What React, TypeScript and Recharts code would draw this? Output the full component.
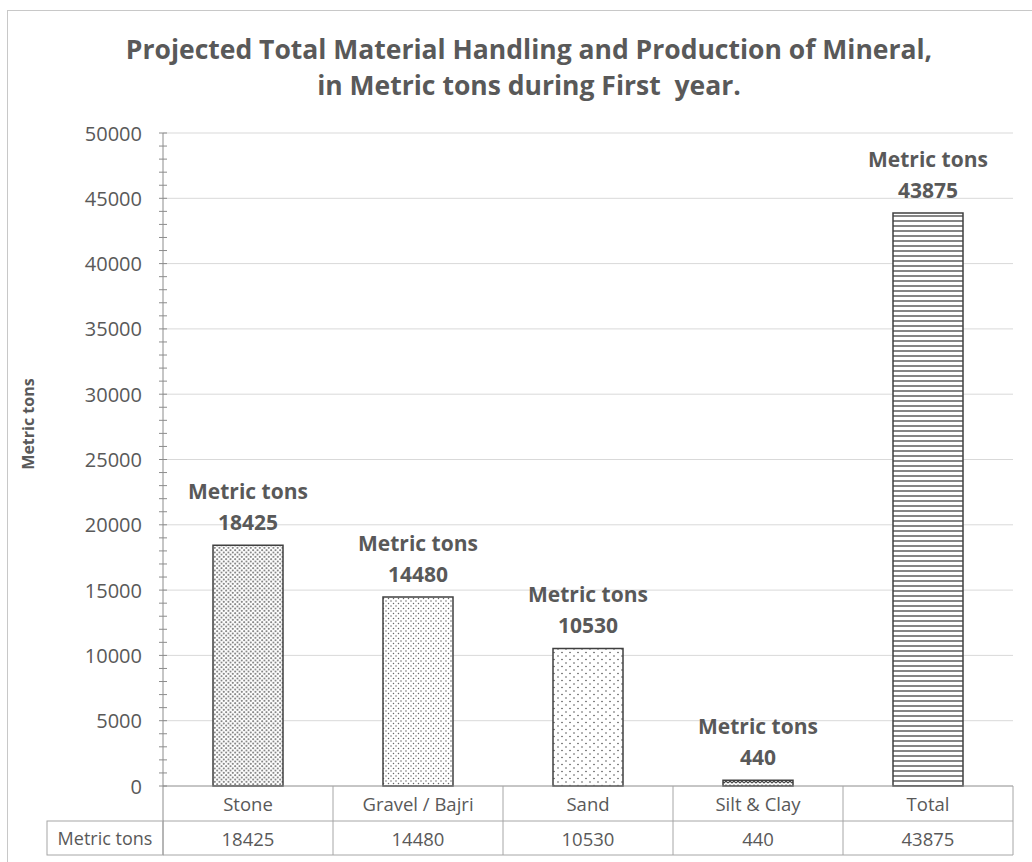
import React from 'react';
import { BarChart, Bar, XAxis, YAxis, CartesianGrid, Cell, LabelList } from 'recharts';

const categories = ['Stone', 'Gravel / Bajri', 'Sand', 'Silt & Clay', 'Total'];
const values = [18425, 14480, 10530, 440, 43875];
const seriesName = 'Metric tons';
const yTicks = [0, 1000, 2000, 3000, 4000, 5000, 6000, 7000, 8000, 9000, 10000, 11000, 12000, 13000, 14000, 15000, 16000, 17000, 18000, 19000, 20000, 21000, 22000, 23000, 24000, 25000, 26000, 27000, 28000, 29000, 30000, 31000, 32000, 33000, 34000, 35000, 36000, 37000, 38000, 39000, 40000, 41000, 42000, 43000, 44000, 45000, 46000, 47000, 48000, 49000, 50000];
const gridValues = [5000, 10000, 15000, 20000, 25000, 30000, 35000, 40000, 45000, 50000];
const patternIds = ['patStone', 'patGravel', 'patSand', 'patSilt', 'patTotal'];

const data = categories.map((c, i) => ({ name: c, value: values[i] }));

const W = 1032;
const H = 862;
const PLOT_LEFT = 163;
const PLOT_RIGHT = 1013;
const PLOT_TOP = 133;
const PLOT_BOTTOM = 786;
const BAND = (PLOT_RIGHT - PLOT_LEFT) / categories.length;
const ROW1 = 35;
const ROW2 = 34;
const FONT = '"Open Sans", "Noto Sans", sans-serif';
const TEXT = '#595959';
const LINE = '#a6a6a6';

const YTick = (props: any) => {
  const { x, y, payload } = props;
  const major = payload.value % 5000 === 0;
  return (
    <g>
      <line x1={x - 4} x2={x + 4} y1={y} y2={y} stroke="#8c8c8c" strokeWidth={1} />
      {major && (
        <text x={x - 21} y={y} textAnchor="end" dominantBaseline="central" fontFamily={FONT} fontSize={20} fill={TEXT}>
          {payload.value}
        </text>
      )}
    </g>
  );
};

const TableTick = (props: any) => {
  const { x, y, payload, index } = props;
  const left = x - BAND / 2;
  const right = x + BAND / 2;
  return (
    <g>
      <line x1={right} x2={right} y1={y} y2={y + ROW1 + ROW2} stroke={LINE} strokeWidth={1} />
      <line x1={left} x2={right} y1={y + ROW1} y2={y + ROW1} stroke={LINE} strokeWidth={1} />
      <line x1={left} x2={right} y1={y + ROW1 + ROW2} y2={y + ROW1 + ROW2} stroke={LINE} strokeWidth={1} />
      {index === 0 && (
        <g>
          <line x1={left} x2={left} y1={y} y2={y + ROW1 + ROW2} stroke="#8c8c8c" strokeWidth={1} />
          <rect x={47} y={y + ROW1} width={left - 47} height={ROW2} fill="none" stroke={LINE} strokeWidth={1} />
          <text x={(47 + left) / 2} y={y + ROW1 + ROW2 / 2} textAnchor="middle" dominantBaseline="central" fontFamily={FONT} fontSize={18} fill={TEXT}>
            {seriesName}
          </text>
        </g>
      )}
      <text x={x} y={y + ROW1 / 2} textAnchor="middle" dominantBaseline="central" fontFamily={FONT} fontSize={18.5} fill={TEXT}>
        {payload.value}
      </text>
      <text x={x} y={y + ROW1 + ROW2 / 2} textAnchor="middle" dominantBaseline="central" fontFamily={FONT} fontSize={18.5} fill={TEXT}>
        {values[index]}
      </text>
    </g>
  );
};

const DataLabel = (props: any) => {
  const { x, y, width, value } = props;
  const cx = x + width / 2;
  return (
    <g>
      <text x={cx} y={y - 54} textAnchor="middle" dominantBaseline="central" fontFamily={FONT} fontWeight={700} fontSize={21} fill={TEXT}>
        {seriesName}
      </text>
      <text x={cx} y={y - 23} textAnchor="middle" dominantBaseline="central" fontFamily={FONT} fontWeight={700} fontSize={21} fill={TEXT}>
        {value}
      </text>
    </g>
  );
};

export default function App() {
  return (
    <div style={{ position: 'absolute', left: 0, top: 0, width: W, height: H, background: '#fff', overflow: 'hidden' }}>
      <div style={{ position: 'absolute', left: 7, top: 10, width: 1040, height: 900, border: '1.5px solid #c8c8c8', boxSizing: 'border-box' }} />
      <div style={{ position: 'absolute', left: 0, top: 31, width: 1058, textAlign: 'center', fontFamily: FONT, fontWeight: 700, fontSize: 26.5, color: TEXT, lineHeight: '36px' }}>
        <div>Projected Total Material Handling and Production of Mineral,</div>
        <div>in Metric tons during First&nbsp; year.</div>
      </div>
      <div style={{ position: 'absolute', left: 28, top: 424, transform: 'translate(-50%, -50%) rotate(-90deg)', fontFamily: FONT, fontWeight: 700, fontSize: 16, color: TEXT, whiteSpace: 'nowrap' }}>
        {seriesName}
      </div>
      <div style={{ position: 'absolute', left: 0, top: 0 }}>
        <BarChart width={W} height={H} data={data} margin={{ top: PLOT_TOP, right: W - PLOT_RIGHT, left: 0, bottom: 0 }} barCategoryGap={0}>
          <defs>
            <pattern id="patStone" patternUnits="userSpaceOnUse" width={4.5} height={4.5}>
              <rect width={4.5} height={4.5} fill="#ffffff" />
              <circle cx={1.1} cy={1.1} r={0.95} fill="#606060" />
              <circle cx={3.35} cy={3.35} r={0.95} fill="#606060" />
            </pattern>
            <pattern id="patGravel" patternUnits="userSpaceOnUse" width={5} height={5}>
              <rect width={5} height={5} fill="#ffffff" />
              <circle cx={1} cy={1} r={0.75} fill="#666" />
              <circle cx={3.5} cy={3.5} r={0.75} fill="#666" />
            </pattern>
            <pattern id="patSand" patternUnits="userSpaceOnUse" width={8} height={7}>
              <rect width={8} height={7} fill="#ffffff" />
              <circle cx={2} cy={1.5} r={0.8} fill="#555" />
              <circle cx={6} cy={5} r={0.8} fill="#555" />
            </pattern>
            <pattern id="patSilt" patternUnits="userSpaceOnUse" width={8} height={4}>
              <rect width={8} height={4} fill="#ffffff" />
              <path d="M0 3 L2 1 L4 3 L6 1 L8 3" stroke="#444" strokeWidth={1.2} fill="none" />
            </pattern>
            <pattern id="patTotal" patternUnits="userSpaceOnUse" width={6} height={5}>
              <rect width={6} height={5} fill="#ffffff" />
              <line x1={0} x2={6} y1={1} y2={1} stroke="#333" strokeWidth={1.2} />
            </pattern>
          </defs>
          <CartesianGrid horizontal vertical={false} stroke="#d9d9d9" horizontalValues={gridValues} />
          <XAxis
            dataKey="name"
            height={H - PLOT_BOTTOM}
            tickSize={0}
            tickMargin={0}
            axisLine={{ stroke: '#8c8c8c' }}
            tickLine={false}
            interval={0}
            tick={<TableTick />}
          />
          <YAxis
            width={PLOT_LEFT}
            domain={[0, 50000]}
            ticks={yTicks}
            interval={0}
            tickSize={0}
            tickMargin={0}
            tickLine={false}
            axisLine={{ stroke: '#8c8c8c' }}
            tick={<YTick />}
          />
          <Bar dataKey="value" barSize={70} stroke="#404040" strokeWidth={1.5} isAnimationActive={false}>
            {data.map((d, i) => (
              <Cell key={d.name} fill={`url(#${patternIds[i]})`} />
            ))}
            <LabelList dataKey="value" content={<DataLabel />} />
          </Bar>
        </BarChart>
      </div>
    </div>
  );
}
